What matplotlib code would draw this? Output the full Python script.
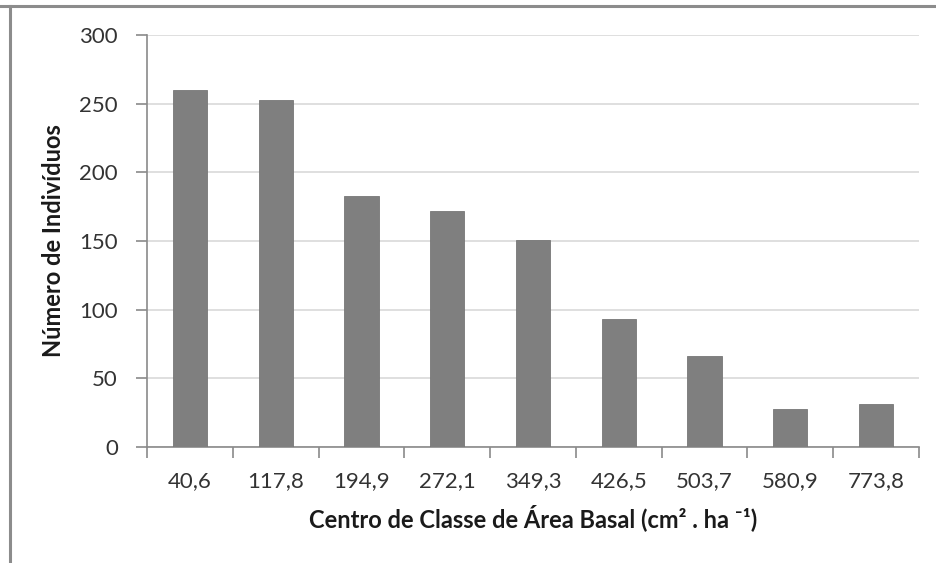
import matplotlib
matplotlib.use("Agg")
import matplotlib.pyplot as plt
from matplotlib.lines import Line2D
import numpy as np

# dados
classes = ['40,6', '117,8', '194,9', '272,1', '349,3', '426,5', '503,7', '580,9', '773,8']
individuos = [260, 253, 183, 172, 151, 93, 66, 28, 31]
yticks = [0, 50, 100, 150, 200, 250, 300]

plt.rcParams['font.family'] = ['Lato', 'DejaVu Sans']

W, H = 936, 563
fig = plt.figure(figsize=(W / 100, H / 100), dpi=100)
ax = fig.add_axes([147 / W, 1 - 447 / H, (919 - 147) / W, (447 - 35) / H])

x = np.arange(len(classes))
ax.bar(x, individuos, width=0.4, color='#7f7f7f', edgecolor='#777777', linewidth=0.6, zorder=3)

ax.set_xlim(-0.5, len(classes) - 0.5)
ax.set_ylim(0, 300)
ax.set_yticks(yticks)
ax.set_yticklabels([str(v) for v in yticks], fontsize=16, color='#333333')
ax.set_xticks(x)
ax.set_xticklabels(classes, fontsize=16, color='#333333')
ax.set_xticks(np.arange(len(classes) + 1) - 0.5, minor=True)

ax.tick_params(axis='x', which='major', length=0, pad=17)
ax.tick_params(axis='x', which='minor', length=8, width=1.2, color='#8a8a8a', direction='out')
ax.tick_params(axis='y', which='major', length=8, width=1.2, color='#8a8a8a', direction='out', pad=13)

ax.grid(axis='y', color='#d9d9d9', linewidth=1.2, zorder=0)
for s in ['top', 'right']:
    ax.spines[s].set_visible(False)
for s in ['left', 'bottom']:
    ax.spines[s].set_color('#8a8a8a')
    ax.spines[s].set_linewidth(1.2)

ax.set_ylabel('Número de Indivíduos', fontsize=17, fontweight='bold', labelpad=10, color='#1a1a1a')
ax.set_xlabel('Centro de Classe de Área Basal (cm² . ha ⁻¹)', fontsize=17, fontweight='bold', labelpad=10, color='#1a1a1a')

# moldura cinza do grafico (topo e esquerda)
fig.add_artist(Line2D([0, 1], [1 - 6 / H, 1 - 6 / H], transform=fig.transFigure, color='#8c8c8c', linewidth=2.2))
fig.add_artist(Line2D([10 / W, 10 / W], [0, 1 - 6 / H], transform=fig.transFigure, color='#8c8c8c', linewidth=2.2))

fig.savefig('out.png', dpi=100)
